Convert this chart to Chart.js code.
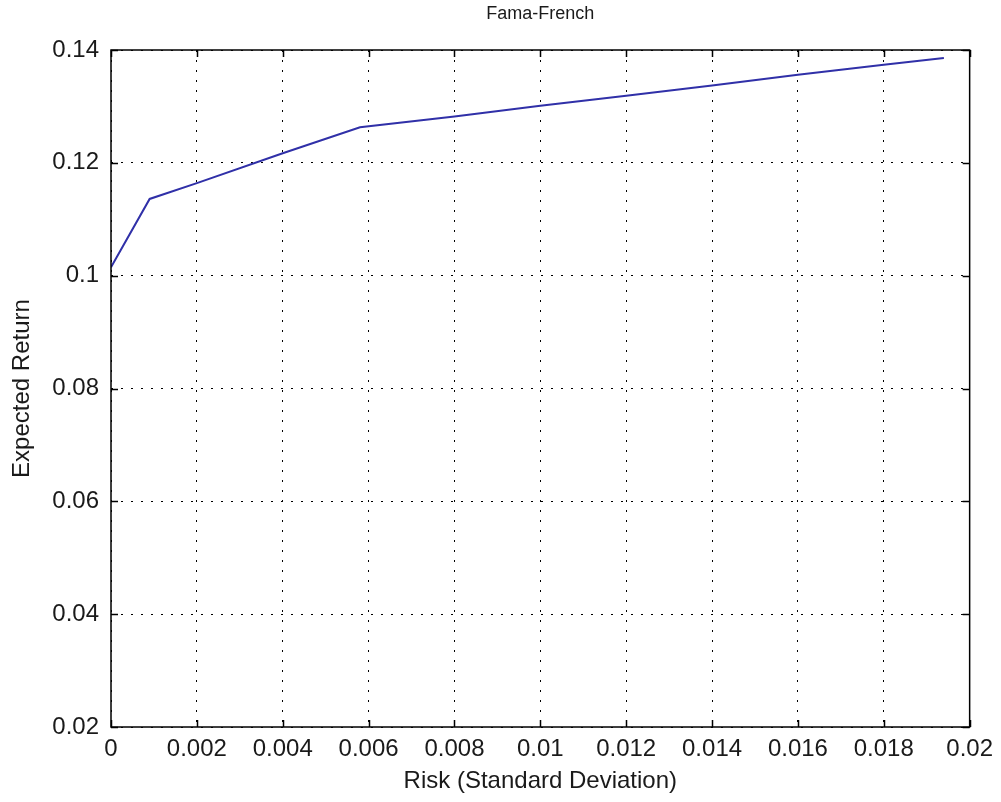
<!DOCTYPE html>
<html>
<head>
<meta charset="utf-8">
<title>Fama-French</title>
<script src="https://cdn.jsdelivr.net/npm/chart.js@4.4.1/dist/chart.umd.min.js"></script>
<style>
  html, body { margin: 0; padding: 0; background: #fff; }
  #wrap { width: 1001px; height: 802px; }
</style>
</head>
<body>
<div id="wrap"><canvas id="frontier"></canvas></div>
<script>
// Efficient frontier: risk (std dev) vs expected return
const riskValues   = [0, 0.0009, 0.002, 0.004, 0.0058, 0.008, 0.010, 0.012, 0.014, 0.016, 0.018, 0.0194];
const returnValues = [0.1015, 0.1136, 0.1164, 0.1217, 0.1263, 0.1282, 0.1301, 0.1319, 0.1337, 0.1356, 0.1374, 0.1386];

// Axis tick labels
const xTickLabels = ['0', '0.002', '0.004', '0.006', '0.008', '0.01', '0.012', '0.014', '0.016', '0.018', '0.02'];
const yTickLabels = ['0.02', '0.04', '0.06', '0.08', '0.1', '0.12', '0.14'];

const FONT = 'Liberation Sans, Arial, sans-serif';
const TEXT = '#1a1a1a';

// Center the title over the plot box instead of the whole canvas
const centerTitle = {
    id: 'centerTitle',
    afterLayout(chart) {
        const t = chart.titleBlock, a = chart.chartArea;
        if (!t) return;
        t.left = a.left;
        t.right = a.right;
        t.width = a.right - a.left;
    }
};

// Solid box around the plot plus short inward tick marks on all four sides
const boxTicks = {
    id: 'boxTicks',
    afterDraw(chart) {
        const { ctx, chartArea: a, scales: { x, y } } = chart;
        const len = 7;
        ctx.save();
        ctx.strokeStyle = '#000';
        ctx.lineWidth = 1.5;
        ctx.strokeRect(a.left, a.top, a.right - a.left, a.bottom - a.top);
        ctx.beginPath();
        x.ticks.forEach(t => {
            const px = Math.round(x.getPixelForValue(t.value)) + 0.5;
            ctx.moveTo(px, a.bottom); ctx.lineTo(px, a.bottom - len);
            ctx.moveTo(px, a.top); ctx.lineTo(px, a.top + len);
        });
        y.ticks.forEach(t => {
            const py = Math.round(y.getPixelForValue(t.value)) + 0.5;
            ctx.moveTo(a.left, py); ctx.lineTo(a.left + len, py);
            ctx.moveTo(a.right, py); ctx.lineTo(a.right - len, py);
        });
        ctx.stroke();
        ctx.restore();
    }
};

const frontierChart = new Chart(document.getElementById('frontier'), {
    type: 'scatter',
    data: {
        datasets: [{
            label: 'Frontier',
            data: riskValues.map((r, i) => ({ x: r, y: returnValues[i] })),
            showLine: true,
            borderColor: '#3030a8',
            borderWidth: 2,
            pointRadius: 0,
            tension: 0
        }]
    },
    options: {
        responsive: true,
        maintainAspectRatio: false,
        animation: false,
        layout: { padding: { left: 0, right: 31, top: 0, bottom: 0 } },
        plugins: {
            legend: { display: false },
            tooltip: { enabled: false },
            title: {
                display: true,
                text: 'Fama-French',
                color: TEXT,
                font: { family: FONT, size: 18, weight: 'normal' },
                padding: { top: 3, bottom: 25.4 }
            }
        },
        scales: {
            x: {
                type: 'linear',
                min: 0,
                max: 0.02,
                afterBuildTicks: s => { s.ticks = xTickLabels.map(t => ({ value: parseFloat(t) })); },
                afterFit: s => { s.height = 75; },
                ticks: {
                    callback: (v, i) => xTickLabels[i],
                    color: TEXT,
                    font: { family: FONT, size: 24 },
                    padding: 8,
                    maxRotation: 0
                },
                grid: { color: '#000', lineWidth: 1, drawTicks: false },
                border: { display: false, dash: [2, 8] },
                title: {
                    display: true,
                    text: 'Risk (Standard Deviation)',
                    color: TEXT,
                    font: { family: FONT, size: 24 },
                    padding: { top: 0, bottom: 6 }
                }
            },
            y: {
                type: 'linear',
                min: 0.02,
                max: 0.14,
                afterBuildTicks: s => { s.ticks = yTickLabels.map(t => ({ value: parseFloat(t) })); },
                afterFit: s => { s.width = 111; },
                ticks: {
                    callback: (v, i) => yTickLabels[i],
                    color: TEXT,
                    font: { family: FONT, size: 24 },
                    padding: 12
                },
                grid: { color: '#000', lineWidth: 1, drawTicks: false },
                border: { display: false, dash: [2, 8] },
                title: {
                    display: true,
                    text: 'Expected Return',
                    color: TEXT,
                    font: { family: FONT, size: 24 },
                    padding: { top: 8, bottom: 0 }
                }
            }
        }
    },
    plugins: [centerTitle, boxTicks]
});
</script>
</body>
</html>
